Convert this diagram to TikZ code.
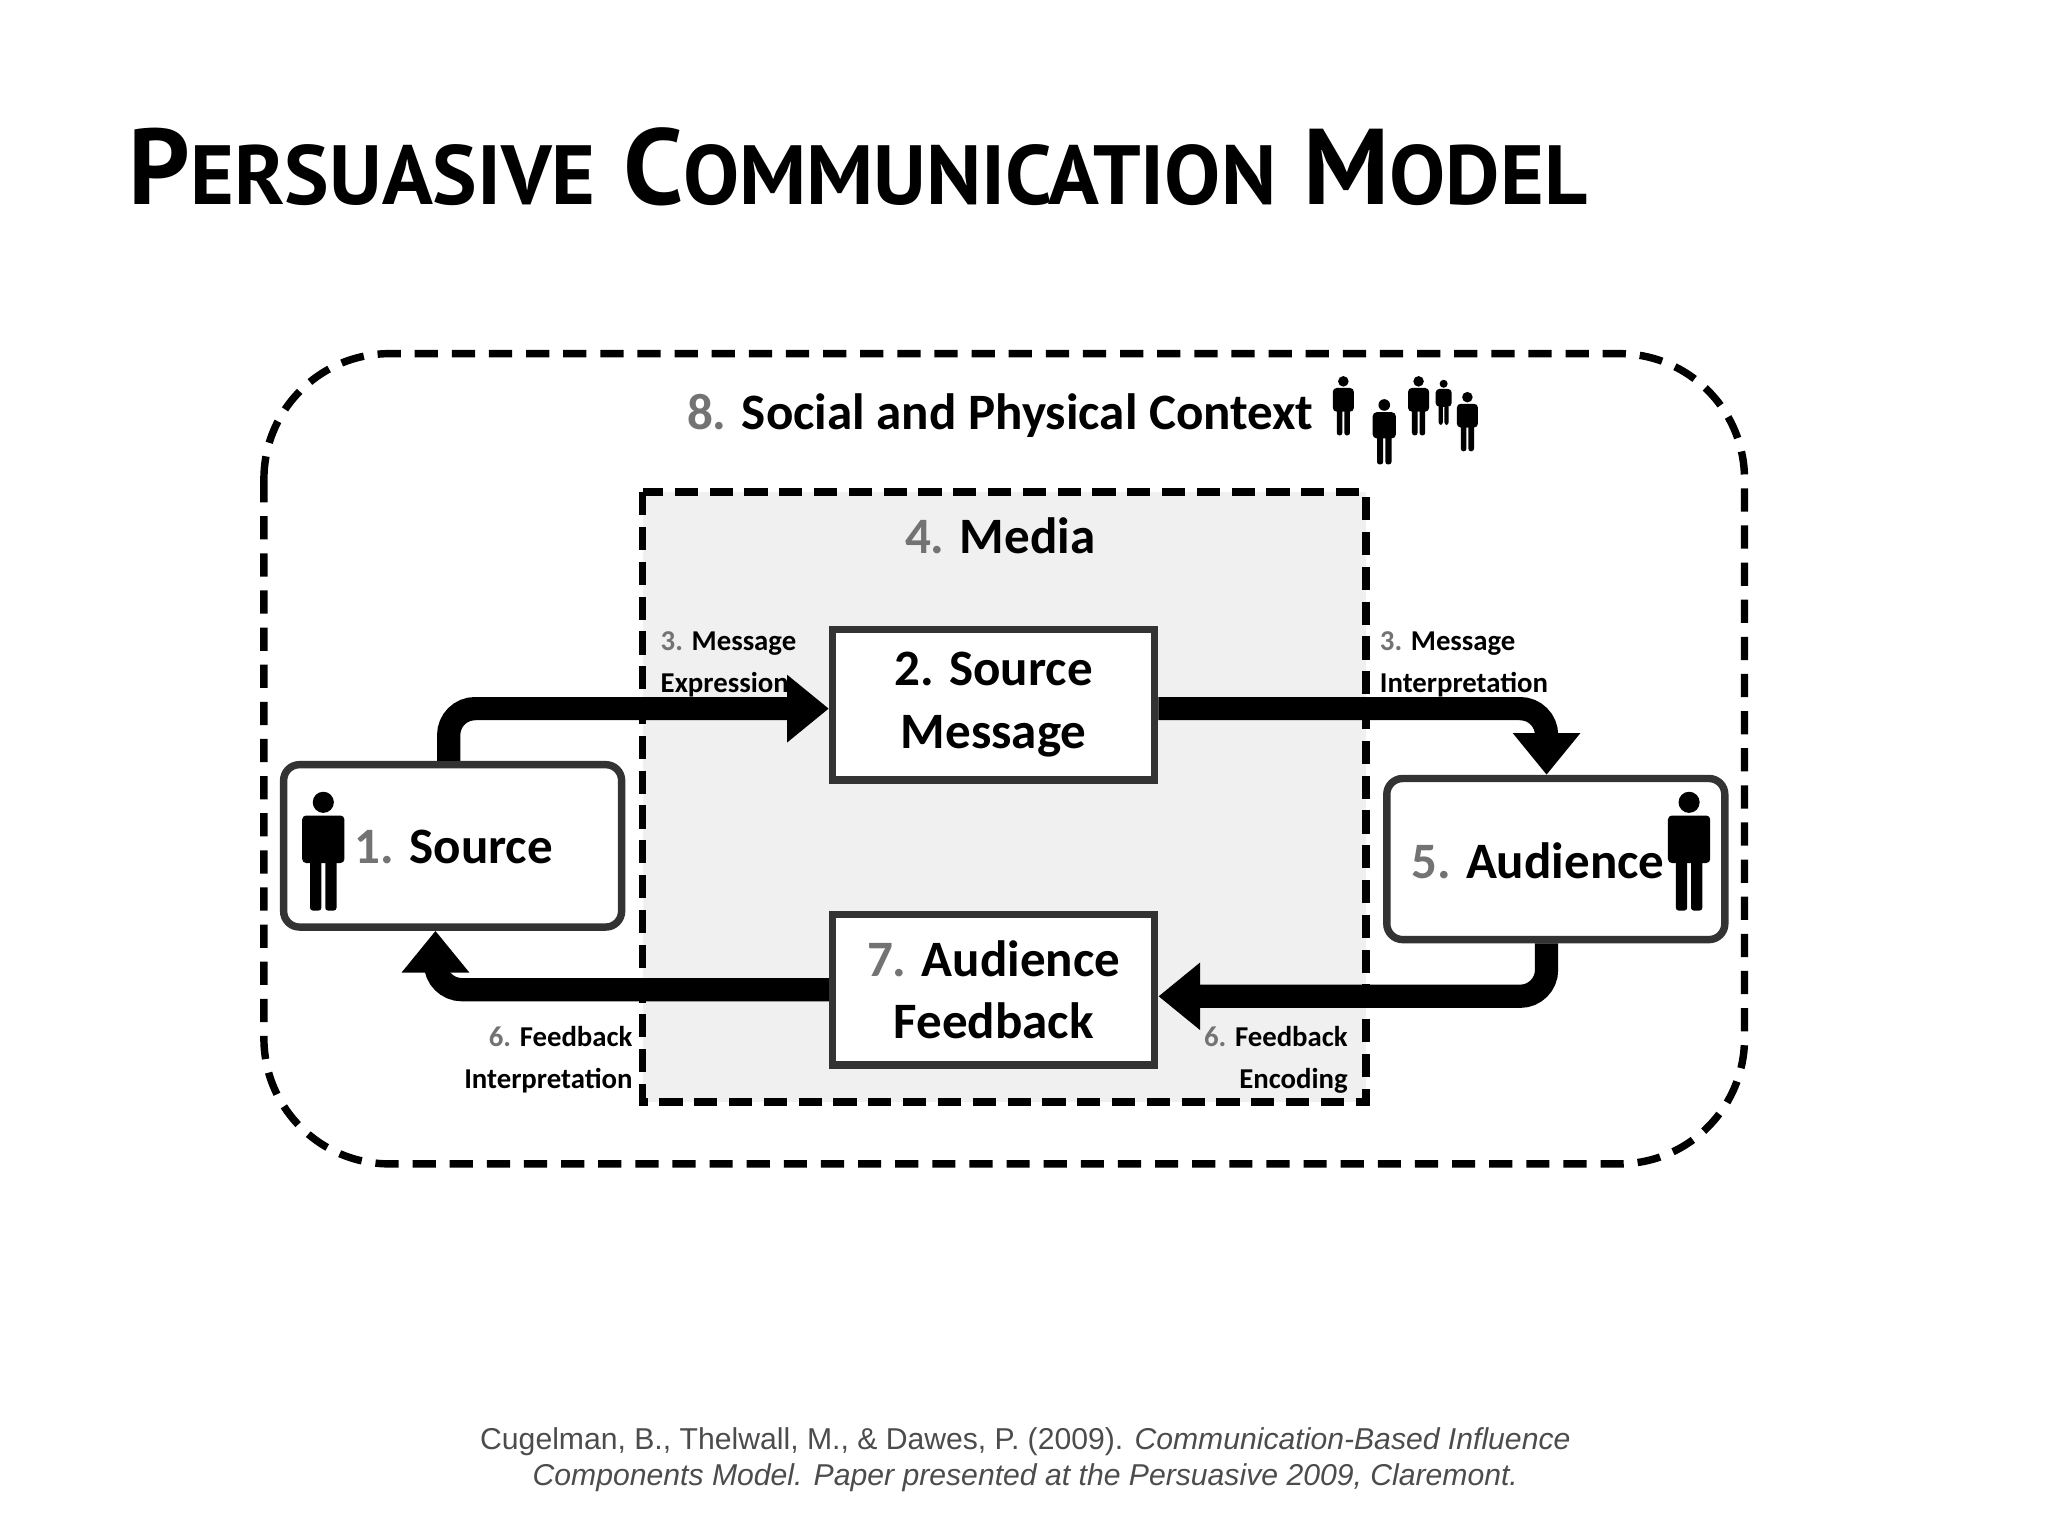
\documentclass[tikz,border=0pt]{standalone}
\usepackage{fontspec}
\setmainfont{Carlito}
\newfontfamily\titlef{PT Sans}
\newfontfamily\citef{Liberation Sans}
\usetikzlibrary{arrows.meta}
\definecolor{numg}{gray}{0.45}
\tikzset{
 box/.style={draw=black!80,line width=1.6pt,fill=white,align=center,font=\fontsize{11}{13.5}\selectfont\bfseries},
 lab/.style={font=\fontsize{6.2}{8}\selectfont\bfseries,align=left,inner sep=0},
 flow/.style={line width=5pt,rounded corners=0.2cm,-{Triangle[length=9pt,width=14pt]}},
 pics/person/.style={code={
   \fill (0,-82) circle (0.08cm);
   \fill[rounded corners=0.03cm] (-16,-72) rectangle (16,-36);
   \fill[rounded corners=0.02cm] (-10,-40) rectangle (-1.5,0);
   \fill[rounded corners=0.02cm] (1.5,-40) rectangle (10,0);
 }}
}
\begin{document}
\begin{tikzpicture}[x=0.01cm,y=-0.01cm]
\useasboundingbox (0,0) rectangle (1552,1164);
\node[anchor=base west,inner sep=0] (title) at (97,155) {\titlef\bfseries\fontsize{23.2}{28}\selectfont P{\fontsize{18.1}{22}\selectfont ERSUASIVE} C{\fontsize{18.1}{22}\selectfont OMMUNICATION} M{\fontsize{18.1}{22}\selectfont ODEL}};
% outer context
\draw[line width=1.6pt,dash pattern=on 5pt off 3pt,rounded corners=0.95cm] (200,268) rectangle (1322,882);
\node[font=\fontsize{11}{13}\selectfont\bfseries] (ctx) at (758,315) {\textcolor{numg}{8.} Social and Physical Context};
\pic[scale=0.5] at (1018,330) {person};
\pic[scale=0.55] at (1049,352) {person};
\pic[scale=0.5] at (1075,330) {person};
\pic[scale=0.38] at (1094,322) {person};
\pic[scale=0.5] at (1112,342) {person};
% media
\draw[line width=1.6pt,dash pattern=on 5pt off 2.5pt,fill=black!6] (487,373) rectangle (1035,835);
\node[font=\fontsize{11}{13}\selectfont\bfseries] (media) at (758,406) {\textcolor{numg}{4.} Media};
% boxes
\node[box,minimum width=2.44cm,minimum height=1.14cm] (sm) at (753,534) {2. Source\\Message};
\node[box,minimum width=2.44cm,minimum height=1.14cm] (af) at (753,750) {\textcolor{numg}{7.} Audience\\Feedback};
\node[box,rounded corners=0.12cm,minimum width=2.56cm,minimum height=1.23cm] (src) at (343,641) {};
\node[font=\fontsize{11}{13.5}\selectfont\bfseries,anchor=west,inner sep=0] (srct) at (268,642) {\textcolor{numg}{1.} Source};
\pic at (245,690) {person};
\node[box,rounded corners=0.12cm,minimum width=2.56cm,minimum height=1.22cm] (aud) at (1179,651) {};
\node[font=\fontsize{11}{13.5}\selectfont\bfseries,anchor=east,inner sep=0] (audt) at (1262,652) {\textcolor{numg}{5.} Audience};
\pic at (1280,690) {person};
\coordinate (c1) at (340,537);
\coordinate (c2) at (1172,537);
\coordinate (c3) at (1172,755);
\coordinate (c4) at (330,750);
% flows
\draw[flow] (src.north -| c1) -- (c1) -- (sm.west |- c1);
\draw[flow] (sm.east |- c2) -- (c2) -- (aud.north -| c2);
\draw[flow] (aud.south -| c3) -- (c3) -- (af.east |- c3);
\draw[flow] (af.west |- c4) -- (c4) -- (src.south -| c4);
% labels
\node[lab,anchor=north west] (l1) at (500,478) {\textcolor{numg}{3.} Message\\[1pt]Expression};
\node[lab,anchor=north west] (l2) at (1045,478) {\textcolor{numg}{3.} Message\\[1pt]Interpretation};
\node[lab,anchor=north east,align=right] (l3) at (480,777) {\textcolor{numg}{6.} Feedback\\[1pt]Interpretation};
\node[lab,anchor=north east,align=right] (l4) at (1022,777) {\textcolor{numg}{6.} Feedback\\[1pt]Encoding};
% citation
\node[font=\citef\fontsize{6.5}{7.8}\selectfont,text=black!70,align=center] (cite) at (777,1106) {Cugelman, B., Thelwall, M., \& Dawes, P. (2009). \textit{Communication-Based Influence}\\\textit{Components Model. Paper presented at the Persuasive 2009, Claremont.}};
\end{tikzpicture}
\end{document}
